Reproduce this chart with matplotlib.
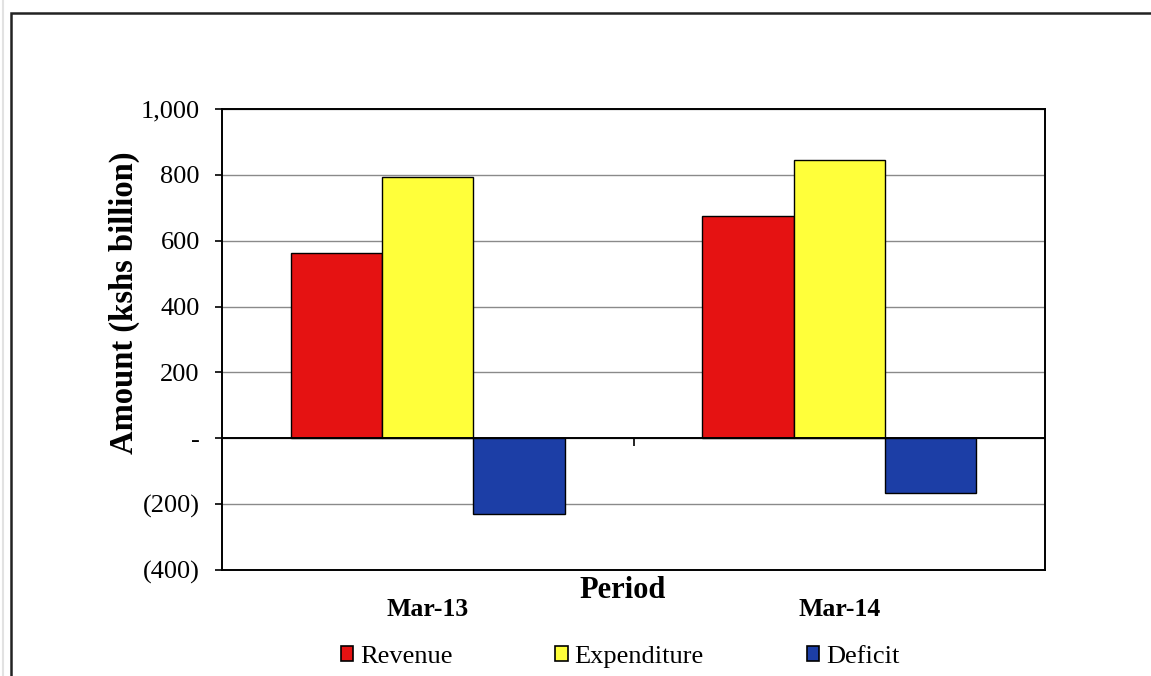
import matplotlib.pyplot as plt
import matplotlib.patches as mpatches
from matplotlib.lines import TICKDOWN
from matplotlib.ticker import FuncFormatter
import numpy as np

plt.rcParams['font.family'] = ['Liberation Serif', 'DejaVu Serif']

# Data (KShs billion)
periods = ['Mar-13', 'Mar-14']
series = ['Revenue', 'Expenditure', 'Deficit']
revenue = [562, 676]
expenditure = [795, 846]
deficit = [-230, -165]
colors = ['#E51212', '#FFFF3A', '#1C3EA6']

fig = plt.figure(figsize=(11.51, 6.76), dpi=100)

# Scanned page frame (top and left edges)
fig.patches.append(mpatches.Rectangle((11 / 1151, -0.1), 1.2, 1.1 - 13 / 676,
                                      transform=fig.transFigure, fill=False,
                                      edgecolor='#222222', linewidth=1.8))
fig.add_artist(plt.Line2D([3 / 1151, 3 / 1151], [0, 1], color='#e2e2e2', linewidth=1.5))

ax = fig.add_axes([222 / 1151, 1 - 570 / 676, (1045 - 222) / 1151, (570 - 109) / 676])

x = np.arange(len(periods))
w = 1 / 4.5  # excel gap width 150%
for i, (vals, c) in enumerate(zip([revenue, expenditure, deficit], colors)):
    ax.bar(x + (i - 1) * w, vals, width=w, color=c, edgecolor='black',
           linewidth=1.0, zorder=3, label=series[i])

ax.set_xlim(-0.5, 1.5)
ax.set_ylim(-400, 1000)
ax.set_yticks(np.arange(-400, 1001, 200))


def fmt(v, pos):
    if v == 0:
        return '-'
    if v < 0:
        return f'({abs(v):,.0f})'
    return f'{v:,.0f}'


ax.yaxis.set_major_formatter(FuncFormatter(fmt))
ax.tick_params(axis='y', length=5, width=1.2, labelsize=19, pad=11)
ax.grid(axis='y', color='#8a8a8a', linewidth=1.0, zorder=0)

ax.set_xticks(x)
ax.set_xticklabels(periods, fontsize=18.5, fontweight='bold')
ax.tick_params(axis='x', length=0, pad=20)

# category axis at zero with divider tick
ax.axhline(0, color='black', linewidth=1.4, zorder=4)
ax.plot([0.5], [0], marker=TICKDOWN, markersize=6, color='black', mew=1.2,
        zorder=4, clip_on=False)

for s in ax.spines.values():
    s.set_linewidth(1.4)
    s.set_color('black')

ax.set_ylabel('Amount (kshs billion)', fontsize=23.5, fontweight='bold')
ax.yaxis.set_label_coords(-0.10, 0.58)
fig.text(623 / 1151, 1 - 591 / 676, 'Period', ha='center', va='center',
         fontsize=22, fontweight='bold')

handles = [mpatches.Patch(facecolor=c, edgecolor='black', linewidth=1.2, label=s)
           for c, s in zip(colors, series)]
fig.legend(handles=handles, loc='center', bbox_to_anchor=(620 / 1151, 1 - 657 / 676),
           ncol=3, frameon=False, fontsize=19, handlelength=0.48, handleheight=0.48,
           handletextpad=0.25, columnspacing=3.9, borderaxespad=0)

fig.savefig('out.png', dpi=100)
